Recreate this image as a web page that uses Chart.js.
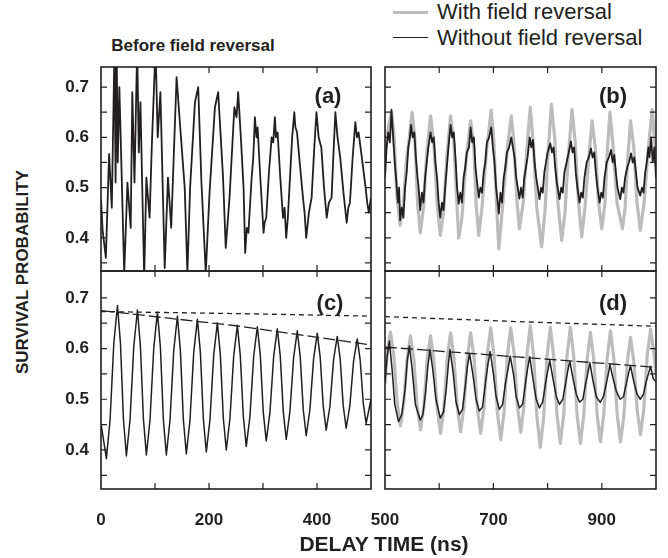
<!DOCTYPE html>
<html>
<head>
<meta charset="utf-8">
<script src="https://cdn.jsdelivr.net/npm/chart.js@4.4.1/dist/chart.umd.min.js"></script>
<style>
  body { margin: 0; background: #fff; }
  #wrap { position: relative; width: 668px; height: 558px; overflow: hidden;
          font-family: "Liberation Sans", Arial, sans-serif; color: #231f20; }
  canvas { position: absolute; }
  .txt { position: absolute; white-space: nowrap; line-height: 1; }
  .bold { font-weight: bold; }
  .key { position: absolute; left: 393px; width: 35px; }
</style>
</head>
<body>
<div id="wrap">
  <canvas id="chartA"></canvas>
  <canvas id="chartB"></canvas>
  <canvas id="chartC"></canvas>
  <canvas id="chartD"></canvas>

  <div class="key" style="top: 11px; border-top: 3px solid #bcbcbc;"></div>
  <div class="key" style="top: 37px; border-top: 1.5px solid #231f20;"></div>
  <div class="txt" style="left: 437px; top: 1px; font-size: 22px;">With field reversal</div>
  <div class="txt" style="left: 437px; top: 27px; font-size: 22px;">Without field reversal</div>
  <div class="txt bold" style="left: 193px; top: 45px; font-size: 17px; transform: translate(-50%, -50%);">Before field reversal</div>

  <div class="txt bold" style="left: 328px; top: 96px; font-size: 22px; transform: translate(-50%, -50%);">(a)</div>
  <div class="txt bold" style="left: 613px; top: 96px; font-size: 22px; transform: translate(-50%, -50%);">(b)</div>
  <div class="txt bold" style="left: 330px; top: 303px; font-size: 22px; transform: translate(-50%, -50%);">(c)</div>
  <div class="txt bold" style="left: 613px; top: 303px; font-size: 22px; transform: translate(-50%, -50%);">(d)</div>

  <div class="txt bold" style="left: 22px; top: 272px; font-size: 17px; transform: translate(-50%, -50%) rotate(-90deg);">SURVIVAL PROBABILITY</div>
  <div class="txt bold" style="left: 384px; top: 543px; font-size: 21px; transform: translate(-50%, -50%);">DELAY TIME (ns)</div>
</div>

<script>
// ---- data ----
const yTicks = [0.35, 0.4, 0.45, 0.5, 0.55, 0.6, 0.65, 0.7];
const yLabels = [0.4, 0.5, 0.6, 0.7];
const xTicksLeft = [100, 200, 300, 400];
const xTicksRight = [600, 700, 800, 900];
const xLabelsLeft = [0, 200, 400];
const xLabelsRight = [500, 700, 900];

// (a) before field reversal
const aTime = [0, 3, 9, 15, 20, 25, 27, 29, 31, 34, 43, 49, 55, 58, 62, 67, 70, 73, 80, 84,
  90, 94, 101, 105, 110, 118, 124, 130, 140, 146, 155, 160, 165, 174, 180, 186, 194, 201, 211, 217,
  226, 231, 238, 247, 251, 254, 259, 264, 267, 270, 273, 279, 282, 285, 288, 290, 295, 301, 303, 306,
  311, 316, 319, 322, 324, 327, 332, 337, 340, 343, 346, 349, 354, 358, 360, 363, 368, 374, 377, 380,
  385, 390, 395, 399, 403, 408, 413, 418, 422, 427, 431, 434, 438, 443, 449, 455, 458, 461, 466, 471,
  474, 477, 483, 490, 493, 496, 500];
const aProb = [0.477, 0.415, 0.36, 0.567, 0.46, 0.78, 0.51, 0.78, 0.55, 0.70, 0.33, 0.51, 0.42, 0.69, 0.51, 0.78, 0.57, 0.67, 0.32, 0.52,
  0.44, 0.58, 0.78, 0.60, 0.69, 0.34, 0.52, 0.42, 0.72, 0.63, 0.50, 0.33, 0.50, 0.67, 0.70, 0.51, 0.33, 0.49, 0.66, 0.69,
  0.52, 0.38, 0.48, 0.66, 0.64, 0.69, 0.60, 0.50, 0.37, 0.42, 0.41, 0.52, 0.56, 0.64, 0.60, 0.62, 0.52, 0.41, 0.43, 0.44,
  0.53, 0.60, 0.59, 0.64, 0.60, 0.61, 0.52, 0.44, 0.46, 0.40, 0.44, 0.50, 0.60, 0.65, 0.62, 0.61, 0.55, 0.48, 0.45, 0.40,
  0.45, 0.48, 0.58, 0.65, 0.60, 0.58, 0.50, 0.44, 0.47, 0.48, 0.58, 0.65, 0.60, 0.56, 0.49, 0.43, 0.46, 0.47, 0.56, 0.63,
  0.60, 0.61, 0.56, 0.50, 0.47, 0.45, 0.48];

// (b) after reversal, with / without
const bWithTime = [500, 506, 512, 517, 522, 528, 534, 540, 545, 550, 555, 560, 565, 571, 577, 584, 590, 596, 602, 608,
  614, 621, 627, 632, 636, 642, 650, 658, 664, 668, 673, 679, 688, 696, 701, 706, 710, 716, 726, 733,
  738, 743, 748, 755, 762, 768, 774, 780, 789, 795, 801, 807, 813, 819, 826, 832, 838, 845, 851, 857,
  863, 869, 876, 882, 888, 894, 900, 906, 910, 915, 921, 928, 938, 943, 948, 953, 959, 965, 971, 978,
  986, 993, 997, 1000];
const bWithProb = [0.57, 0.62, 0.65, 0.60, 0.48, 0.425, 0.47, 0.56, 0.60, 0.65, 0.60, 0.47, 0.41, 0.46, 0.57, 0.643, 0.59, 0.47, 0.405, 0.45,
  0.56, 0.643, 0.59, 0.48, 0.40, 0.44, 0.56, 0.633, 0.58, 0.47, 0.405, 0.46, 0.58, 0.654, 0.59, 0.46, 0.378, 0.45, 0.58, 0.643,
  0.59, 0.48, 0.418, 0.47, 0.58, 0.66, 0.58, 0.46, 0.382, 0.45, 0.57, 0.666, 0.60, 0.47, 0.395, 0.45, 0.56, 0.655, 0.59, 0.47,
  0.402, 0.46, 0.56, 0.633, 0.58, 0.47, 0.418, 0.47, 0.57, 0.65, 0.58, 0.47, 0.418, 0.46, 0.56, 0.633, 0.58, 0.47, 0.415, 0.47,
  0.58, 0.655, 0.60, 0.56];
const bWithoutTime = [500, 503, 506, 509, 512, 515, 518, 521, 524, 526, 528, 531, 534, 537, 540, 543, 546, 548, 551, 554,
  557, 560, 562, 565, 568, 571, 574, 577, 580, 584, 587, 590, 593, 596, 599, 602, 605, 608, 611, 614,
  617, 621, 624, 627, 630, 633, 636, 639, 642, 645, 648, 651, 655, 658, 661, 664, 667, 670, 673, 676,
  679, 682, 685, 688, 692, 696, 699, 702, 705, 708, 710, 713, 716, 719, 722, 725, 729, 733, 736, 739,
  742, 745, 748, 751, 754, 757, 760, 763, 767, 770, 773, 776, 779, 782, 785, 788, 791, 794, 797, 800,
  805, 808, 811, 814, 817, 820, 822, 825, 828, 831, 835, 839, 843, 846, 849, 852, 855, 859, 862, 865,
  868, 872, 876, 880, 883, 886, 889, 892, 896, 899, 902, 905, 909, 913, 917, 920, 923, 926, 929, 934,
  937, 940, 943, 947, 950, 954, 957, 960, 963, 966, 971, 974, 977, 980, 983, 986, 988, 991, 994, 997, 1000];
const bWithoutProb = [0.52, 0.58, 0.61, 0.59, 0.655, 0.60, 0.55, 0.51, 0.47, 0.50, 0.435, 0.46, 0.44, 0.50, 0.53, 0.58, 0.60, 0.625, 0.60, 0.61,
  0.56, 0.52, 0.50, 0.455, 0.49, 0.47, 0.52, 0.55, 0.58, 0.61, 0.59, 0.60, 0.55, 0.52, 0.47, 0.44, 0.47, 0.455, 0.50, 0.54,
  0.58, 0.625, 0.60, 0.61, 0.56, 0.50, 0.468, 0.49, 0.47, 0.52, 0.54, 0.57, 0.58, 0.62, 0.59, 0.60, 0.54, 0.51, 0.48, 0.50,
  0.49, 0.53, 0.55, 0.59, 0.60, 0.62, 0.58, 0.55, 0.50, 0.47, 0.448, 0.49, 0.47, 0.52, 0.54, 0.57, 0.58, 0.60, 0.58, 0.56,
  0.52, 0.50, 0.478, 0.50, 0.48, 0.52, 0.54, 0.56, 0.60, 0.58, 0.595, 0.55, 0.52, 0.50, 0.477, 0.50, 0.49, 0.53, 0.55, 0.57,
  0.588, 0.57, 0.58, 0.54, 0.51, 0.49, 0.477, 0.50, 0.49, 0.53, 0.55, 0.57, 0.592, 0.57, 0.58, 0.53, 0.50, 0.47, 0.49, 0.48,
  0.52, 0.55, 0.56, 0.578, 0.56, 0.57, 0.53, 0.50, 0.47, 0.49, 0.48, 0.52, 0.55, 0.56, 0.575, 0.55, 0.565, 0.53, 0.50, 0.477,
  0.50, 0.49, 0.52, 0.54, 0.55, 0.568, 0.55, 0.56, 0.53, 0.50, 0.484, 0.50, 0.49, 0.53, 0.55, 0.58, 0.56, 0.60, 0.55, 0.58, 0.52];

// (c) before reversal, smoothed, with two fitted envelopes
const cTime = [0, 10, 16.8, 23.7, 30.5, 36, 41.5, 47, 53.8, 60.7, 67.5, 73, 78.5, 84, 90.8, 97.7,
  104.5, 110, 115.5, 121, 127.8, 134.7, 141.5, 147, 152.5, 158, 164.8, 171.7, 178.5, 184, 189.5, 195,
  201.8, 208.7, 215.5, 221, 226.5, 232, 238.8, 245.7, 252.5, 258, 263.5, 269, 275.8, 282.7, 289.5, 295,
  300.5, 306, 312.8, 319.7, 326.5, 332, 337.5, 343, 349.8, 356.7, 363.5, 369, 374.5, 380, 386.8, 393.7,
  400.5, 406, 411.5, 417, 423.8, 430.7, 437.5, 443, 448.5, 454, 460.8, 467.7, 474.5, 480, 485.5, 491, 500];
const cProb = [0.452, 0.383, 0.459, 0.61, 0.685, 0.611, 0.462, 0.388, 0.46, 0.604, 0.676, 0.604, 0.462, 0.39, 0.46, 0.601,
  0.672, 0.602, 0.46, 0.39, 0.459, 0.596, 0.664, 0.596, 0.46, 0.392, 0.459, 0.592, 0.658, 0.593, 0.462, 0.396,
  0.46, 0.587, 0.651, 0.588, 0.463, 0.40, 0.462, 0.585, 0.646, 0.586, 0.467, 0.407, 0.466, 0.584, 0.643, 0.587,
  0.474, 0.418, 0.473, 0.584, 0.639, 0.585, 0.476, 0.421, 0.475, 0.582, 0.635, 0.583, 0.48, 0.428, 0.479, 0.58,
  0.63, 0.582, 0.487, 0.439, 0.485, 0.578, 0.624, 0.579, 0.488, 0.443, 0.487, 0.575, 0.619, 0.577, 0.494, 0.452, 0.50];
const cFitTime = [0, 250, 500];
const cFitLong = [0.675, 0.645, 0.607];
const cFitShort = [0.673, 0.669, 0.664];

// (d) after reversal, smoothed, with / without
const dWithTime = [500, 504, 510, 516.2, 522.3, 528.5, 534.7, 540.8, 547, 553.2, 559.3, 565.5, 571.7, 577.8,
  584, 590.2, 596.3, 602.5, 608.7, 614.8, 621, 627.2, 633.3, 639.5, 645.7, 651.8, 658, 664.2, 670.3, 676.5,
  682.7, 688.8, 695, 701.2, 707.3, 713.5, 719.7, 725.8, 732, 738.2, 744.3, 750.5, 756.5, 762.5, 768, 774.2,
  780.3, 786.5, 792.7, 798.8, 805, 811.2, 817.3, 823.5, 829.7, 835.8, 842, 848.2, 854.3, 860.5, 866.7, 872.8,
  879, 885.2, 891.3, 897.5, 903.7, 909.8, 916, 922.2, 928.3, 934.5, 940.7, 946.8, 953, 959.2, 965.3, 971.5,
  977.7, 983.8, 990, 996.2, 1000];
const dWithProb = [0.53, 0.59, 0.633, 0.587, 0.494, 0.447, 0.492, 0.581, 0.625, 0.579, 0.486, 0.44, 0.486, 0.579,
  0.625, 0.577, 0.481, 0.433, 0.483, 0.582, 0.631, 0.582, 0.485, 0.436, 0.485, 0.582, 0.631, 0.582, 0.482, 0.433,
  0.485, 0.589, 0.641, 0.586, 0.475, 0.42, 0.475, 0.586, 0.641, 0.59, 0.487, 0.435, 0.488, 0.593, 0.645, 0.585,
  0.465, 0.405, 0.464, 0.583, 0.642, 0.585, 0.47, 0.413, 0.47, 0.585, 0.642, 0.585, 0.47, 0.413, 0.468, 0.577,
  0.632, 0.578, 0.47, 0.416, 0.471, 0.58, 0.635, 0.58, 0.471, 0.416, 0.468, 0.571, 0.622, 0.574, 0.478, 0.43,
  0.482, 0.586, 0.638, 0.59, 0.55];
const dWithoutTime = [500, 504, 508, 513, 518, 525, 531, 537, 541, 545, 550, 556, 565, 570, 575, 579, 583, 588, 594, 602,
  608, 613, 617, 620, 626, 631, 637, 643, 648, 652, 656, 662, 668, 674, 680, 685, 690, 694, 700, 705,
  711, 717, 722, 727, 731, 737, 742, 748, 754, 759, 763, 767, 773, 779, 785, 791, 796, 800, 804, 810,
  816, 822, 828, 833, 837, 841, 847, 853, 859, 865, 870, 874, 878, 884, 890, 897, 903, 908, 912, 915,
  921, 927, 934, 940, 945, 949, 953, 959, 965, 971, 977, 982, 986, 990, 995, 1000];
const dWithoutProb = [0.535, 0.585, 0.615, 0.56, 0.49, 0.456, 0.47, 0.52, 0.575, 0.605, 0.56, 0.49, 0.459, 0.47, 0.515, 0.565, 0.598, 0.56, 0.50, 0.463,
  0.475, 0.52, 0.57, 0.598, 0.55, 0.495, 0.47, 0.48, 0.525, 0.565, 0.59, 0.55, 0.50, 0.477, 0.485, 0.53, 0.57, 0.594, 0.55, 0.505,
  0.48, 0.49, 0.53, 0.56, 0.585, 0.55, 0.505, 0.483, 0.49, 0.53, 0.56, 0.584, 0.54, 0.50, 0.483, 0.495, 0.53, 0.555, 0.576, 0.54,
  0.505, 0.49, 0.50, 0.53, 0.555, 0.575, 0.54, 0.51, 0.494, 0.50, 0.53, 0.55, 0.572, 0.535, 0.505, 0.494, 0.505, 0.53, 0.55, 0.568,
  0.54, 0.515, 0.50, 0.505, 0.53, 0.55, 0.566, 0.535, 0.51, 0.50, 0.51, 0.535, 0.55, 0.565, 0.54, 0.535];
const dFitTime = [500, 750, 1000];
const dFitLong = [0.603, 0.583, 0.563];
const dFitShort = [0.663, 0.653, 0.644];

// ---- styling ----
const ink = '#231f20';
const grayInk = '#bcbcbc';
const family = '"Liberation Sans", Arial, sans-serif';

function points(ts, vs) {
  return ts.map((t, i) => ({ x: t, y: vs[i] }));
}

function solid(ts, vs, color, width) {
  return { data: points(ts, vs), borderColor: color, borderWidth: width, fill: false };
}

function dashed(ts, vs, dash) {
  return { data: points(ts, vs), borderColor: ink, borderWidth: 1.3, borderDash: dash, fill: false };
}

// frame, inward ticks on all four sides, and the tick labels
const frameTicks = {
  id: 'frameTicks',
  afterDatasetsDraw(chart, args, opts) {
    const { ctx, chartArea: a, scales } = chart;
    ctx.save();
    ctx.strokeStyle = ink;
    ctx.lineWidth = 1.6;
    ctx.strokeRect(a.left, a.top, a.right - a.left, a.bottom - a.top);
    ctx.lineWidth = 1.2;
    ctx.beginPath();
    opts.xTicks.forEach(v => {
      const x = scales.x.getPixelForValue(v);
      ctx.moveTo(x, a.bottom); ctx.lineTo(x, a.bottom - 6);
      ctx.moveTo(x, a.top); ctx.lineTo(x, a.top + 6);
    });
    opts.yTicks.forEach(v => {
      const y = scales.y.getPixelForValue(v);
      ctx.moveTo(a.left, y); ctx.lineTo(a.left + 6, y);
      ctx.moveTo(a.right, y); ctx.lineTo(a.right - 6, y);
    });
    ctx.stroke();

    ctx.fillStyle = ink;
    ctx.font = 'bold 17px ' + family;
    ctx.textBaseline = 'middle';
    if (opts.yLabels) {
      ctx.textAlign = 'right';
      opts.yLabels.forEach(v => ctx.fillText(v.toFixed(1), a.left - 12, scales.y.getPixelForValue(v)));
    }
    if (opts.xLabels) {
      ctx.textAlign = 'center';
      opts.xLabels.forEach(v => ctx.fillText(String(v), scales.x.getPixelForValue(v), a.bottom + 31));
    }
    ctx.restore();
  }
};

function panel(canvasId, o) {
  const cv = document.getElementById(canvasId);
  cv.width = o.box.w;
  cv.height = o.box.h;
  cv.style.left = o.box.x + 'px';
  cv.style.top = o.box.y + 'px';
  return new Chart(cv, {
    type: 'line',
    data: { datasets: o.datasets },
    options: {
      responsive: false,
      animation: false,
      events: [],
      layout: {
        padding: {
          left: o.plot.l - o.box.x,
          right: o.box.x + o.box.w - o.plot.r,
          top: o.plot.t - o.box.y,
          bottom: o.box.y + o.box.h - o.plot.b
        }
      },
      elements: {
        point: { radius: 0 },
        line: { tension: 0, borderJoinStyle: 'round', borderCapStyle: 'butt' }
      },
      scales: {
        x: { type: 'linear', min: o.xMin, max: o.xMax, display: false },
        y: { min: o.yMin, max: o.yMax, display: false }
      },
      plugins: {
        legend: { display: false },
        tooltip: { enabled: false },
        frameTicks: { xTicks: o.xTicks, yTicks: yTicks, xLabels: o.xLabels, yLabels: o.yLabels }
      }
    },
    plugins: [frameTicks]
  });
}

const topRange = { yMin: 0.334, yMax: 0.74 };
const lowRange = { yMin: 0.323, yMax: 0.753 };

panel('chartA', Object.assign({
  box: { x: 40, y: 60, w: 340, h: 220 },
  plot: { l: 101, r: 371, t: 67, b: 271 },
  xMin: 0, xMax: 500, xTicks: xTicksLeft, yLabels: yLabels,
  datasets: [solid(aTime, aProb, ink, 1.8)]
}, topRange));

panel('chartB', Object.assign({
  box: { x: 380, y: 60, w: 288, h: 220 },
  plot: { l: 385, r: 656, t: 67, b: 271 },
  xMin: 500, xMax: 1000, xTicks: xTicksRight,
  datasets: [
    solid(bWithoutTime, bWithoutProb, ink, 1.8),
    solid(bWithTime, bWithProb, grayInk, 3.2)
  ]
}, topRange));

panel('chartC', Object.assign({
  box: { x: 40, y: 265, w: 340, h: 275 },
  plot: { l: 101, r: 371, t: 271, b: 489 },
  xMin: 0, xMax: 500, xTicks: xTicksLeft, yLabels: yLabels, xLabels: xLabelsLeft,
  datasets: [
    solid(cTime, cProb, ink, 1.5),
    dashed(cFitTime, cFitLong, [12, 4]),
    dashed(cFitTime, cFitShort, [5, 4])
  ]
}, lowRange));

panel('chartD', Object.assign({
  box: { x: 340, y: 265, w: 328, h: 275 },
  plot: { l: 385, r: 656, t: 271, b: 489 },
  xMin: 500, xMax: 1000, xTicks: xTicksRight, xLabels: xLabelsRight,
  datasets: [
    solid(dWithoutTime, dWithoutProb, ink, 1.5),
    dashed(dFitTime, dFitLong, [12, 4]),
    dashed(dFitTime, dFitShort, [5, 4]),
    solid(dWithTime, dWithProb, grayInk, 3.2)
  ]
}, lowRange));
</script>
</body>
</html>
